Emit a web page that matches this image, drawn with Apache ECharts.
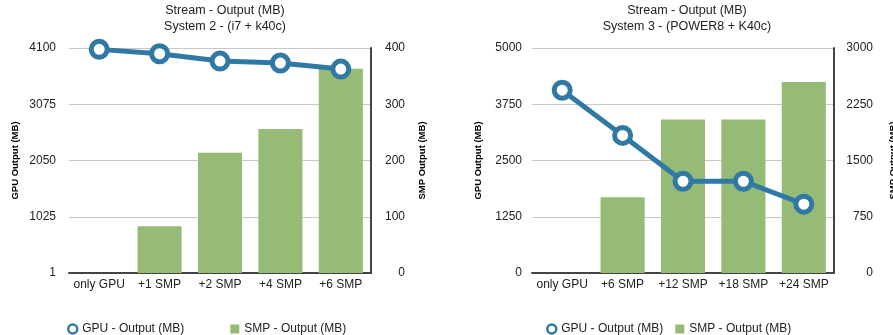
<!DOCTYPE html>
<html>
<head>
<meta charset="utf-8">
<script src="https://cdn.jsdelivr.net/npm/echarts@6/dist/echarts.min.js"></script>
<style>
  html, body { margin: 0; padding: 0; background: #fff; }
  #chart { width: 893px; height: 335px; }
</style>
</head>
<body>
<div id="chart"></div>
<script>
// System 2 - (i7 + k40c)
const categoriesS2 = ['only GPU', '+1 SMP', '+2 SMP', '+4 SMP', '+6 SMP']
const gpuS2 = [4075, 3995, 3862, 3826, 3716]
const smpS2 = [0, 83, 214, 256, 363]
const gpuTicksS2 = ['1', '1025', '2050', '3075', '4100']

// System 3 - (POWER8 + K40c)
const categoriesS3 = ['only GPU', '+6 SMP', '+12 SMP', '+18 SMP', '+24 SMP']
const gpuS3 = [4062, 3058, 2039, 2039, 1529]
const smpS3 = [0, 1011, 2048, 2048, 2548]

const LINE_COLOR = '#2f79a4'
const BAR_COLOR = '#95bb77'
const FONT = 'Liberation Sans, Arial, Helvetica, sans-serif'
const GPU_NAME = 'GPU - Output (MB)'
const SMP_NAME = 'SMP - Output (MB)'

const chart = echarts.init(document.getElementById('chart'), null, { renderer: 'canvas' })

const axisName = (name, gap) => ({
  name,
  nameLocation: 'middle',
  nameGap: gap,
  nameTextStyle: { fontFamily: FONT, fontSize: 9.5, fontWeight: 'bold', color: '#000' },
})

const leftAxis = (gridIndex, min, max, interval, gap, margin, labels) => ({
  type: 'value',
  gridIndex,
  min, max, interval,
  ...axisName('GPU Output (MB)', gap),
  axisLine: { show: false },
  axisTick: { show: false },
  splitLine: { lineStyle: { color: '#c8c8c8', width: 1 } },
  axisLabel: {
    color: '#222', fontFamily: FONT, fontSize: 12, margin,
    formatter: labels ? (v, i) => labels[i] : v => String(v),
  },
})

const rightAxis = (gridIndex, max, interval, gap, margin) => ({
  type: 'value',
  gridIndex,
  position: 'right',
  min: 0, max, interval,
  ...axisName('SMP Output (MB)', gap),
  axisLine: { show: true, lineStyle: { color: '#444', width: 2 } },
  axisTick: { show: false },
  splitLine: { show: false },
  axisLabel: { color: '#222', fontFamily: FONT, fontSize: 12, margin, align: 'right', formatter: v => String(v) },
})

const catAxis = (gridIndex, data) => ({
  type: 'category',
  gridIndex,
  data,
  axisLine: { lineStyle: { color: '#444', width: 2 } },
  axisTick: { show: false },
  axisLabel: { color: '#222', fontFamily: FONT, fontSize: 12, margin: 6, interval: 0 },
})

const barSeries = (idx, data) => ({
  name: SMP_NAME,
  type: 'bar',
  xAxisIndex: idx,
  yAxisIndex: idx * 2 + 1,
  barWidth: '73%',
  itemStyle: { color: BAR_COLOR },
  data,
  z: 1,
})

const lineSeries = (idx, data) => ({
  name: GPU_NAME,
  type: 'line',
  xAxisIndex: idx,
  yAxisIndex: idx * 2,
  symbol: 'circle',
  symbolSize: 16,
  color: LINE_COLOR,
  itemStyle: { color: '#fff', borderColor: LINE_COLOR, borderWidth: 5 },
  lineStyle: { color: LINE_COLOR, width: 5 },
  data,
  z: 3,
})

const legendData = [
  { name: GPU_NAME, icon: 'circle', itemStyle: { color: '#fff', borderColor: LINE_COLOR, borderWidth: 2.5 } },
  { name: SMP_NAME, icon: 'rect', itemStyle: { color: BAR_COLOR, borderWidth: 0 } },
]

const titleStyle = { fontFamily: FONT, fontSize: 12.5, fontWeight: 'normal', color: '#222', lineHeight: 16 }
const legendText = { fontFamily: FONT, fontSize: 12, color: '#222' }

const option = {
  animation: false,
  title: [
    { text: 'Stream - Output (MB)\nSystem 2 - (i7 + k40c)', left: 220, top: -2, textAlign: 'center', textStyle: titleStyle },
    { text: 'Stream - Output (MB)\nSystem 3 - (POWER8 + K40c)', left: 682, top: -2, textAlign: 'center', textStyle: titleStyle },
  ],
  legend: [
    { data: legendData, left: 62, top: 318, itemGap: 46, itemWidth: 9, itemHeight: 9, selectedMode: false, textStyle: legendText },
    { data: legendData, left: 541, top: 318, itemGap: 12, itemWidth: 9, itemHeight: 9, selectedMode: false, textStyle: legendText },
  ],
  grid: [
    { left: 69, right: 522, top: 48, bottom: 62, outerBoundsMode: 'none' },
    { left: 532, right: 59, top: 48, bottom: 62, outerBoundsMode: 'none' },
  ],
  xAxis: [catAxis(0, categoriesS2), catAxis(1, categoriesS3)],
  yAxis: [
    leftAxis(0, 1, 4100, 1024.75, 49, 13, gpuTicksS2),
    rightAxis(0, 400, 100, 46, 34),
    leftAxis(1, 0, 5000, 1250, 49, 10),
    rightAxis(1, 3000, 750, 54, 39),
  ],
  series: [
    barSeries(0, smpS2),
    lineSeries(0, gpuS2),
    barSeries(1, smpS3),
    lineSeries(1, gpuS3),
  ],
}

chart.setOption(option)
</script>
</body>
</html>
